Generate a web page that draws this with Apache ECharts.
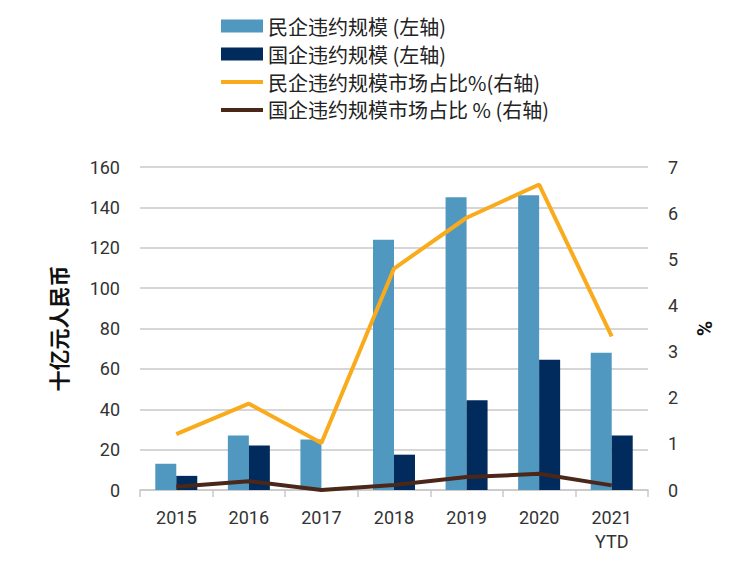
<!DOCTYPE html>
<html>
<head>
<meta charset="utf-8">
<script src="https://cdn.jsdelivr.net/npm/echarts@6/dist/echarts.min.js"></script>
<style>
  html, body { margin: 0; padding: 0; background: #fff; }
  #chart { width: 730px; height: 561px; }
</style>
</head>
<body>
<div id="chart"></div>
<script>
// data
var years = ['2015', '2016', '2017', '2018', '2019', '2020', '2021\nYTD'];
var privateAmt = [13, 27, 25, 124, 145, 146, 68];
var stateAmt = [7, 22, 0, 17.5, 44.5, 64.5, 27];
var privateShare = [1.21, 1.87, 1.02, 4.8, 5.9, 6.62, 3.33];
var stateShare = [0.07, 0.19, 0, 0.11, 0.28, 0.35, 0.1];

var names = ['民企违约规模 (左轴)', '国企违约规模 (左轴)', '民企违约规模市场占比%(右轴)', '国企违约规模市场占比 % (右轴)'];

(function() {
  var txt = '#333333';
  var grid = '#c9c9c9';
  var font = 'Roboto, "Noto Sans", sans-serif';
  var cjk = '"Noto Sans CJK SC", sans-serif';
  var lineIcon = 'path://M0,0L42,0L42,4L0,4Z';

  var chart = echarts.init(document.getElementById('chart'), null, { renderer: 'svg' });
  chart.setOption({
    animation: false,
    legend: {
      orient: 'vertical',
      left: 216,
      top: 11,
      itemWidth: 42,
      itemHeight: 13,
      itemGap: 8,
      symbolKeepAspect: true,
      textStyle: { color: '#222', fontSize: 20, fontFamily: cjk },
      data: [
        { name: names[0], icon: 'rect' },
        { name: names[1], icon: 'rect' },
        { name: names[2], icon: lineIcon },
        { name: names[3], icon: lineIcon }
      ]
    },
    grid: { left: 140, right: 82, top: 167, bottom: 71 },
    xAxis: {
      type: 'category',
      data: years,
      axisLine: { lineStyle: { color: grid, width: 1.5 } },
      axisTick: { show: true, length: 7, lineStyle: { color: grid, width: 1.5 } },
      axisLabel: { color: txt, fontSize: 18, fontFamily: font, margin: 15, lineHeight: 24 }
    },
    yAxis: [
      {
        type: 'value',
        min: 0, max: 160, interval: 20,
        name: '十亿元人民币',
        nameLocation: 'middle',
        nameGap: 72,
        nameRotate: 90,
        nameTextStyle: { color: '#111', fontSize: 21, fontWeight: 'bold', fontFamily: cjk },
        axisLine: { show: false },
        axisTick: { show: false },
        axisLabel: { color: txt, fontSize: 18, fontFamily: font, margin: 20 },
        splitLine: { lineStyle: { color: grid, width: 1.5 } }
      },
      {
        type: 'value',
        min: 0, max: 7, interval: 1,
        name: '%',
        nameLocation: 'middle',
        nameGap: 46,
        nameRotate: 90,
        nameTextStyle: { color: '#111', fontSize: 21, fontWeight: 'bold', fontFamily: font },
        axisLine: { show: false },
        axisTick: { show: false },
        axisLabel: { color: txt, fontSize: 18, fontFamily: font, margin: 20 },
        splitLine: { show: false }
      }
    ],
    series: [
      {
        name: names[0],
        type: 'bar',
        data: privateAmt,
        barWidth: 21,
        barGap: '0%',
        itemStyle: { color: '#5198c1' }
      },
      {
        name: names[1],
        type: 'bar',
        data: stateAmt,
        barWidth: 21,
        itemStyle: { color: '#002b5c' }
      },
      {
        name: names[2],
        type: 'line',
        yAxisIndex: 1,
        data: privateShare,
        symbol: 'none',
        lineStyle: { color: '#f9ab1c', width: 4 },
        itemStyle: { color: '#f9ab1c' }
      },
      {
        name: names[3],
        type: 'line',
        yAxisIndex: 1,
        data: stateShare,
        symbol: 'none',
        lineStyle: { color: '#4a2718', width: 4 },
        itemStyle: { color: '#4a2718' }
      }
    ]
  });
})();
</script>
</body>
</html>
